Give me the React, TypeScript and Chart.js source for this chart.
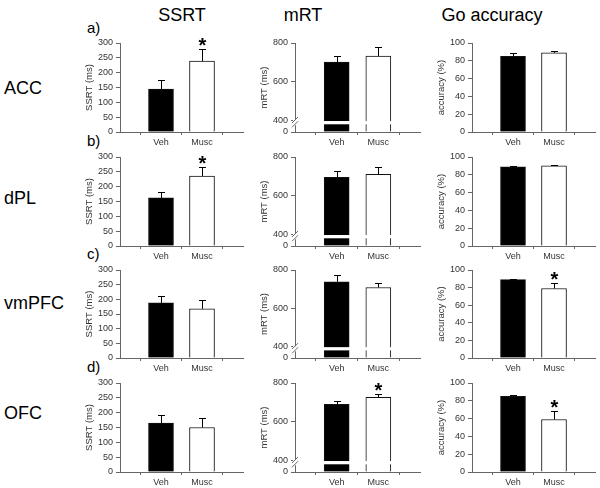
import { useEffect, useRef } from 'react';
import { Chart, registerables } from 'chart.js';
Chart.register(...registerables);

const GROUPS = ['Veh', 'Musc'];
const REGIONS = ['ACC', 'dPL', 'vmPFC', 'OFC'];
const PANEL_LETTERS = ['a)', 'b)', 'c)', 'd)'];
const MEASURES = ['SSRT', 'mRT', 'Go accuracy'];
const AXIS_TITLES = ['SSRT (ms)', 'mRT (ms)', 'accuracy (%)'];

const SSRT_MEAN = [[145, 239], [162, 236], [188, 168], [165, 150]];
const SSRT_SEM = [[30, 41], [20, 30], [22, 30], [27, 32]];
const SSRT_SIG = [[false, true], [false, true], [false, false], [false, false]];
const SSRT_TICKS = [0, 50, 100, 150, 200, 250, 300];

const MRT_MEAN = [[701, 732], [695, 710], [738, 708], [689, 726]];
const MRT_SEM = [[31, 47], [31, 37], [36, 25], [16, 16]];
const MRT_SIG = [[false, false], [false, false], [false, false], [false, true]];
const MRT_TICKS = [0, 400, 600, 800];

const ACC_MEAN = [[85, 89], [89, 90], [89, 79], [85, 59]];
const ACC_SEM = [[4, 2], [1, 1], [1, 6], [2, 9]];
const ACC_SIG = [[false, false], [false, false], [false, true], [false, true]];
const ACC_TICKS = [0, 20, 40, 60, 80, 100];

const FONT = 'Arial, "Liberation Sans", sans-serif';
const AXIS_COLOR = '#666';
const TEXT_COLOR = '#333';

// broken mRT axis: 0..400 is compressed into a short segment
const BREAK_SEG = 62;
const mrtToAxis = (v: number) => (v >= 400 ? v - 400 + BREAK_SEG : (v * BREAK_SEG) / 400);

const COLS = [
  { axisX: 120, right: 243 },
  { axisX: 295, right: 420 },
  { axisX: 472, right: 595 },
];
const ROW_TOP = [43, 157, 270, 383];
const ROW_BOTTOM = [132, 246, 358, 472];

const Y_W = 40;
const X_H = 20;
const PAD_T = 10;
const PAD_R = 4;

type PanelDef = {
  col: number;
  row: number;
  means: number[];
  sems: number[];
  sig: boolean[];
  ticks: number[];
  toAxis: (v: number) => number;
  max: number;
  broken: boolean;
};

function Panel({ def }: { def: PanelDef }) {
  const ref = useRef<HTMLCanvasElement>(null);
  const col = COLS[def.col];
  const left = col.axisX - Y_W;
  const top = ROW_TOP[def.row] - PAD_T;
  const width = col.right - left + PAD_R;
  const height = ROW_BOTTOM[def.row] - top + X_H;

  useEffect(() => {
    const canvas = ref.current;
    if (!canvas) return;
    const labelFor = (axisVal: number) => {
      let best = def.ticks[0];
      let bd = Infinity;
      for (const t of def.ticks) {
        const d = Math.abs(def.toAxis(t) - axisVal);
        if (d < bd) { bd = d; best = t; }
      }
      return String(best);
    };
    const decor = {
      id: 'decor',
      afterDatasetsDraw(chart: any) {
        const ctx = chart.ctx;
        const xs = chart.scales.x;
        const ys = chart.scales.y;
        const area = chart.chartArea;
        ctx.save();
        if (def.broken) {
          const yHi = ys.getPixelForValue(57);
          const yLo = ys.getPixelForValue(40);
          ctx.fillStyle = '#fff';
          ctx.fillRect(area.left + 1, yHi, area.right - area.left - 1, yLo - yHi);
          const ax = area.left;
          ctx.fillRect(ax - 2, yHi - 1, 4, yLo - yHi + 2);
          ctx.strokeStyle = AXIS_COLOR;
          ctx.lineWidth = 1;
          ctx.beginPath();
          ctx.moveTo(ax - 3, yHi + 2);
          ctx.lineTo(ax + 3, yHi - 4);
          ctx.moveTo(ax - 3, yLo + 3);
          ctx.lineTo(ax + 3, yLo - 3);
          ctx.stroke();
        }
        ctx.strokeStyle = '#000';
        ctx.lineWidth = 1;
        def.means.forEach((m, i) => {
          const x = Math.round(xs.getPixelForValue(i + 1));
          const y0 = ys.getPixelForValue(def.toAxis(m));
          const y1 = Math.round(ys.getPixelForValue(def.toAxis(m + def.sems[i]))) + 0.5;
          ctx.beginPath();
          ctx.moveTo(x + 0.5, y0);
          ctx.lineTo(x + 0.5, y1);
          ctx.moveTo(x - 3, y1);
          ctx.lineTo(x + 4, y1);
          ctx.stroke();
          if (def.sig[i]) {
            ctx.fillStyle = '#000';
            ctx.font = `bold 20px ${FONT}`;
            ctx.textAlign = 'center';
            ctx.textBaseline = 'alphabetic';
            ctx.fillText('*', x + 0.5, y1 + 2);
          }
        });
        ctx.restore();
      },
    };

    const chart = new Chart(canvas, {
      type: 'bar',
      data: {
        datasets: [
          {
            data: def.means.map((m, i) => ({ x: i + 1, y: def.toAxis(m) })),
            backgroundColor: ['#000', '#fff'],
            borderColor: '#111',
            borderWidth: 1,
            barThickness: 25,
          },
        ],
      },
      options: {
        animation: false,
        responsive: false,
        maintainAspectRatio: false,
        events: [],
        layout: { padding: { top: PAD_T, right: PAD_R, bottom: 0, left: 0 } },
        plugins: { legend: { display: false }, tooltip: { enabled: false } },
        scales: {
          x: {
            type: 'linear',
            offset: false,
            min: 0,
            max: 3,
            afterBuildTicks: (s: any) => {
              s.ticks = GROUPS.map((_, i) => ({ value: i + 1 }));
            },
            afterFit: (s: any) => {
              s.height = X_H;
            },
            ticks: {
              callback: (v: any) => GROUPS[Math.round(Number(v)) - 1] ?? '',
              font: { size: 9, family: FONT },
              color: TEXT_COLOR,
              padding: 2,
              maxRotation: 0,
              autoSkip: false,
            },
            grid: { drawOnChartArea: false, tickLength: 3, color: AXIS_COLOR },
            border: { color: AXIS_COLOR },
          },
          y: {
            type: 'linear',
            min: 0,
            max: def.max,
            afterBuildTicks: (s: any) => {
              s.ticks = def.ticks.map((t) => ({ value: def.toAxis(t) }));
            },
            afterFit: (s: any) => {
              s.width = Y_W;
            },
            ticks: {
              callback: (v: any) => labelFor(Number(v)),
              font: { size: 9, family: FONT },
              color: TEXT_COLOR,
              padding: 3,
              autoSkip: false,
            },
            title: {
              display: true,
              text: AXIS_TITLES[def.col],
              font: { size: 9.5, family: FONT },
              color: TEXT_COLOR,
              padding: { top: 4, bottom: 0 },
            },
            grid: { drawOnChartArea: false, tickLength: 4, color: AXIS_COLOR },
            border: { color: AXIS_COLOR },
          },
        },
      },
      plugins: [decor],
    } as any);
    return () => chart.destroy();
  }, []);

  return (
    <canvas
      ref={ref}
      width={width}
      height={height}
      style={{ position: 'absolute', left, top, width, height }}
    />
  );
}

export default function App() {
  const panels: PanelDef[] = [];
  for (let r = 0; r < 4; r++) {
    panels.push({ col: 0, row: r, means: SSRT_MEAN[r], sems: SSRT_SEM[r], sig: SSRT_SIG[r], ticks: SSRT_TICKS, toAxis: (v) => v, max: 300, broken: false });
    panels.push({ col: 1, row: r, means: MRT_MEAN[r], sems: MRT_SEM[r], sig: MRT_SIG[r], ticks: MRT_TICKS, toAxis: mrtToAxis, max: mrtToAxis(800), broken: true });
    panels.push({ col: 2, row: r, means: ACC_MEAN[r], sems: ACC_SEM[r], sig: ACC_SIG[r], ticks: ACC_TICKS, toAxis: (v) => v, max: 100, broken: false });
  }
  const titleX = [182, 303, 492];
  const rowY = [88, 198, 303, 413];
  const letterY = [27, 140, 253, 366];
  return (
    <div style={{ position: 'fixed', left: 0, top: 0, width: 600, height: 488, background: '#fff', fontFamily: FONT, color: '#000', overflow: 'hidden' }}>
      {MEASURES.map((m, i) => (
        <span key={m} style={{ position: 'absolute', left: titleX[i], top: 15, transform: 'translate(-50%,-50%)', fontSize: 18, lineHeight: 1, whiteSpace: 'nowrap' }}>{m}</span>
      ))}
      {REGIONS.map((r, i) => (
        <span key={r} style={{ position: 'absolute', left: 4, top: rowY[i], transform: 'translateY(-50%)', fontSize: 18, lineHeight: 1, whiteSpace: 'nowrap' }}>{r}</span>
      ))}
      {PANEL_LETTERS.map((l, i) => (
        <span key={l} style={{ position: 'absolute', left: 87, top: letterY[i], transform: 'translateY(-50%)', fontSize: 15, lineHeight: 1, whiteSpace: 'nowrap' }}>{l}</span>
      ))}
      {panels.map((p) => (
        <Panel key={`${p.row}-${p.col}`} def={p} />
      ))}
    </div>
  );
}
